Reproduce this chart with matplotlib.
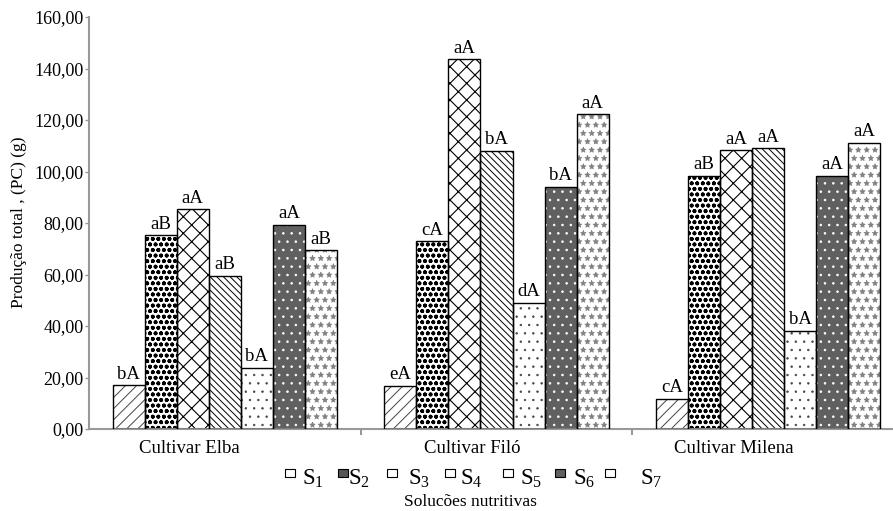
import matplotlib
matplotlib.use("Agg")
import matplotlib.pyplot as plt
from matplotlib.patches import Rectangle
import matplotlib.transforms as mtransforms
import numpy as np

plt.rcParams['font.family'] = ['Liberation Serif', 'DejaVu Serif']
plt.rcParams['mathtext.fontset'] = 'custom'
plt.rcParams['mathtext.rm'] = 'Liberation Serif'
plt.rcParams['mathtext.it'] = 'Liberation Serif'
plt.rcParams['hatch.linewidth'] = 0.7

cultivars = ["Cultivar Elba", "Cultivar Filó", "Cultivar Milena"]
series = ["S1", "S2", "S3", "S4", "S5", "S6", "S7"]
values = {
    "S1": [17.0, 16.8, 11.7],
    "S2": [75.3, 72.9, 98.3],
    "S3": [85.4, 143.6, 108.3],
    "S4": [59.4, 108.0, 109.0],
    "S5": [23.8, 49.1, 38.2],
    "S6": [79.2, 94.1, 98.3],
    "S7": [69.4, 122.3, 111.2],
}
letters = {
    "S1": ["bA", "eA", "cA"],
    "S2": ["aB", "cA", "aB"],
    "S3": ["aA", "aA", "aA"],
    "S4": ["aB", "bA", "aA"],
    "S5": ["bA", "dA", "bA"],
    "S6": ["aA", "bA", "aA"],
    "S7": ["aB", "aA", "aA"],
}
yticks = [0, 20, 40, 60, 80, 100, 120, 140, 160]
ytick_labels = ["0,00", "20,00", "40,00", "60,00", "80,00", "100,00", "120,00", "140,00", "160,00"]

styles = {
    "S1": dict(face="white", hatch="///", hc="#444444", hlw=0.7),
    "S2": dict(face="white", hatch="ooo", hc="black", hlw=1.2),
    "S3": dict(face="white", hatch="xx", hc="black", hlw=0.8),
    "S4": dict(face="white", hatch="\\\\\\\\\\", hc="black", hlw=0.7),
    "S5": dict(face="white", hatch="..", hc="#444444", hlw=0.5),
    "S6": dict(face="#606060", hatch="..", hc="white", hlw=0.6),
    "S7": dict(face="white", hatch="**", hc="#808080", hlw=0.4),
}

W, H = 893, 511
fig = plt.figure(figsize=(W / 100, H / 100), dpi=100)
ax = fig.add_axes([89 / W, 1 - 429 / H, (904 - 89) / W, (429 - 17) / H])

x = np.arange(len(cultivars))
bw = 0.118
for i, s in enumerate(series):
    pos = x + (i - 3) * bw
    st = styles[s]
    with plt.rc_context({'hatch.linewidth': st["hlw"]}):
        hb = ax.bar(pos, values[s], width=bw, color=st["face"], edgecolor=st["hc"],
                    hatch=st["hatch"], linewidth=0, zorder=2)
        for p in hb:
            try:
                p.set_hatch_linewidth(st["hlw"])
            except AttributeError:
                pass
    bars = ax.bar(pos, values[s], width=bw, fill=False, edgecolor="black",
                  linewidth=1.0, zorder=3)
    for b, lab in zip(bars, letters[s]):
        ax.text(b.get_x() + b.get_width() / 2, b.get_height() + 1.0, lab,
                ha="center", va="bottom", fontsize=13.5)

ax.set_xlim(-0.5, 2.5)
ax.set_ylim(0, 160)
ax.set_yticks(yticks)
ax.set_yticklabels(ytick_labels, fontsize=13)
ax.set_xticks(x)
ax.set_xticklabels(cultivars, fontsize=13.5)
ax.tick_params(axis="x", length=0, pad=8)
label_shift = [-35, -24, -34]
for lab, dx in zip(ax.get_xticklabels(), label_shift):
    lab.set_transform(lab.get_transform() + mtransforms.ScaledTranslation(dx / 100, 0, fig.dpi_scale_trans))
ax.set_xticks([0.5, 1.5], minor=True)
ax.tick_params(axis="x", which="minor", length=4, color="#999999", direction="out", width=1.5)
ax.tick_params(axis="y", length=3, color="#999999", width=1, pad=1)
for sp in ["top", "right"]:
    ax.spines[sp].set_visible(False)
for sp in ["left", "bottom"]:
    ax.spines[sp].set_color("#999999")
    ax.spines[sp].set_linewidth(1.5)
fig.text(19 / W, 1 - 222 / H, "Produção total , (PC) (g)", rotation=90,
         ha="center", va="center", fontsize=12.5)

# legend (manual placement of small swatches and labels)
patch_x = [285, 338, 387, 445, 503, 555, 605]
text_x = [302, 348, 408, 460, 520, 573, 640]
for s, px, tx in zip(series, patch_x, text_x):
    st = styles[s]
    r = Rectangle((px / W, 1 - 477 / H), 10 / W, 8 / H, transform=fig.transFigure,
                  facecolor=st["face"] if s != "S2" else "#555555", edgecolor="black",
                  linewidth=0.8)
    fig.add_artist(r)
    fig.text(tx / W, 1 - 485 / H, r"$\mathrm{S_%s}$" % s[1:], ha="left", va="baseline", fontsize=16.5)
fig.text(470 / W, 1 - 502 / H, "Solucões nutritivas", ha="center", va="center", fontsize=12.5)

fig.savefig("out.png", dpi=100)
